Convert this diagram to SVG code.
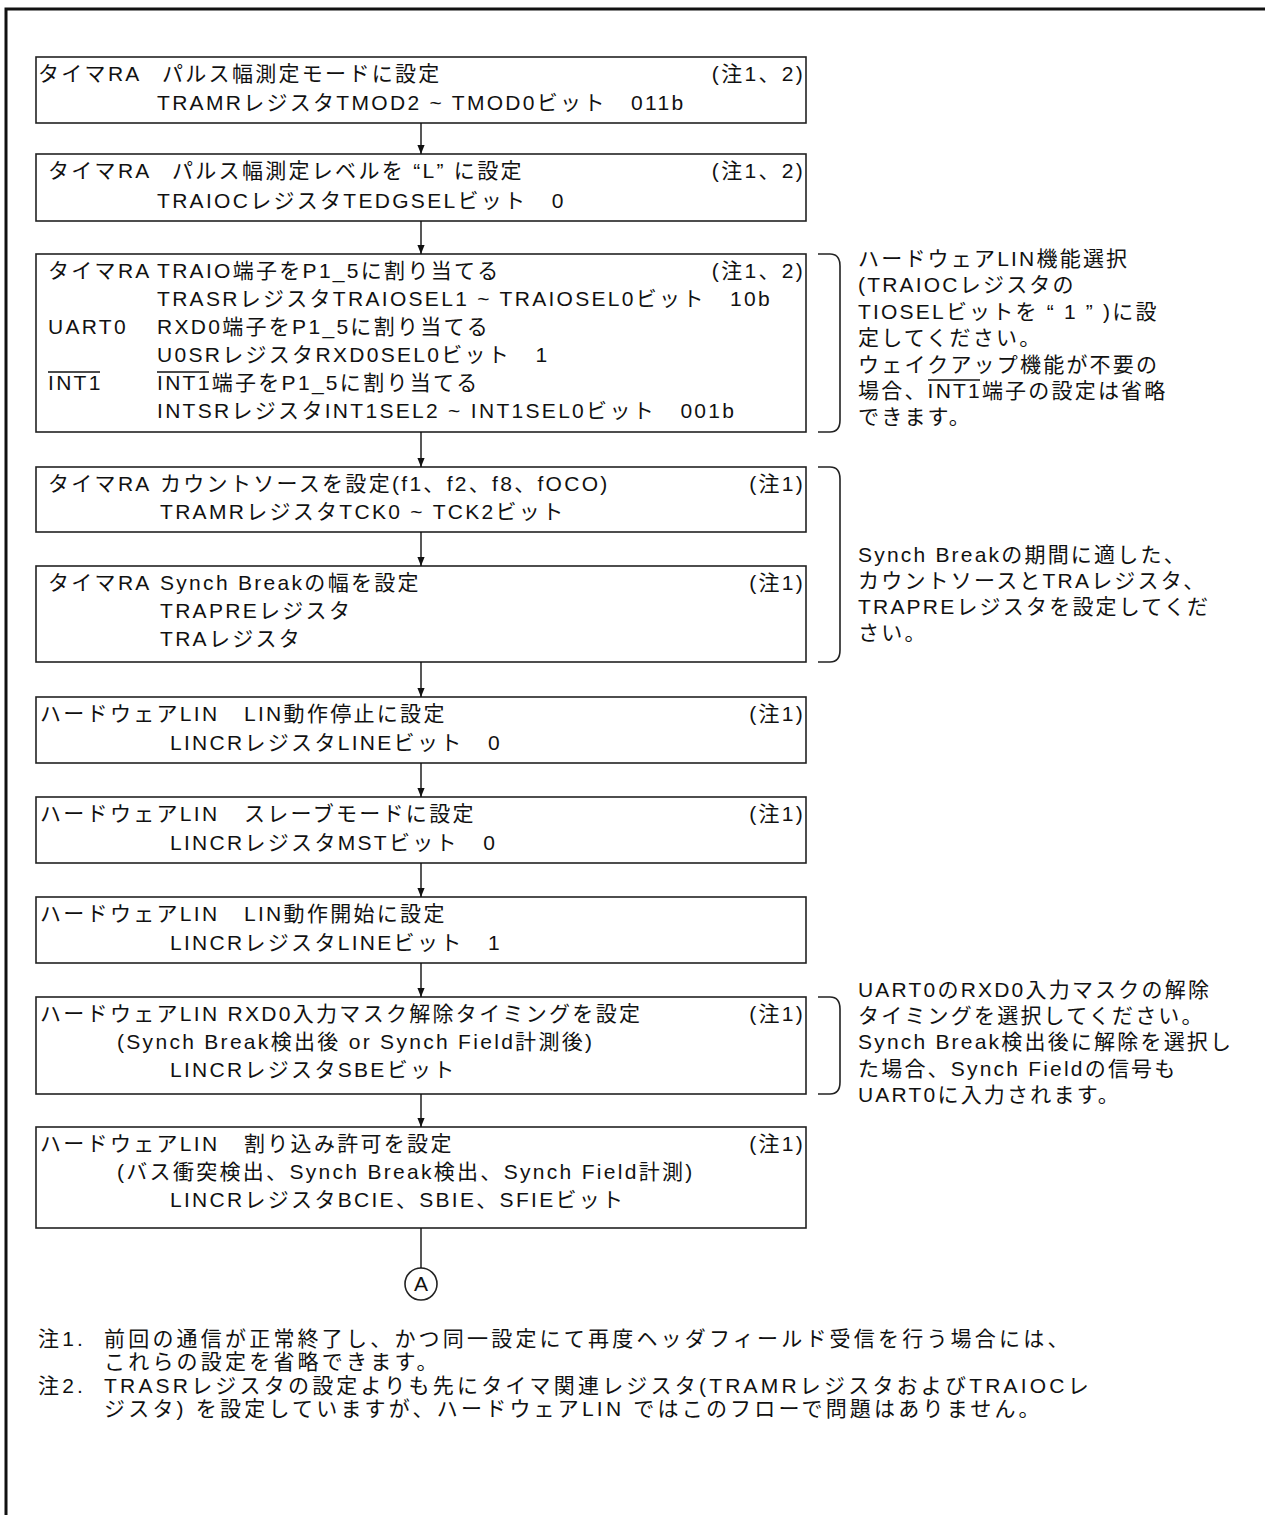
<svg xmlns="http://www.w3.org/2000/svg" width="1265" height="1515" viewBox="0 0 1265 1515">
<defs>
<style>
text{font-family:"Liberation Sans","Noto Sans CJK JP",sans-serif;font-size:21px;letter-spacing:2.3px;fill:#111;white-space:pre}
.e{text-anchor:end}
.c{text-anchor:middle;letter-spacing:0}
.s{letter-spacing:2.2px}
.f{letter-spacing:3.2px}
.box{fill:#fff;stroke:#222;stroke-width:1.6}
.con{stroke:#111;stroke-width:1.4;fill:none}
.br{stroke:#222;stroke-width:1.6;fill:none}
.ol{stroke:#111;stroke-width:1.3}
</style>
<marker id="ah" viewBox="0 0 10 10" refX="10" refY="5" markerWidth="9" markerHeight="10" markerUnits="userSpaceOnUse" orient="auto">
<path d="M0,1 L10,5 L0,9 z" fill="#111"/>
</marker>
</defs>
<rect width="1265" height="1515" fill="#fff"/>
<path d="M6,1515 V9 H1265" fill="none" stroke="#111" stroke-width="3"/>

<g id="n1">
<rect class="box" x="36" y="57" width="770" height="66"/>
<text x="38" y="81">タイマRA</text>
<text x="162" y="81">パルス幅測定モードに設定</text>
<text class="e" x="805" y="81">(注1、2)</text>
<text x="157" y="110">TRAMRレジスタTMOD2 ~ TMOD0ビット   011b</text>
</g>

<g id="n2">
<rect class="box" x="36" y="154" width="770" height="67"/>
<text x="48" y="178">タイマRA</text>
<text x="172" y="178">パルス幅測定レベルを “L” に設定</text>
<text class="e" x="805" y="178">(注1、2)</text>
<text x="157" y="208">TRAIOCレジスタTEDGSELビット   0</text>
</g>

<g id="n3">
<rect class="box" x="36" y="254" width="770" height="178"/>
<text x="48" y="278">タイマRA</text>
<text x="157" y="278">TRAIO端子をP1_5に割り当てる</text>
<text class="e" x="805" y="278">(注1、2)</text>
<text x="157" y="306">TRASRレジスタTRAIOSEL1 ~ TRAIOSEL0ビット   10b</text>
<text x="48" y="334">UART0</text>
<text x="157" y="334">RXD0端子をP1_5に割り当てる</text>
<text x="157" y="362">U0SRレジスタRXD0SEL0ビット   1</text>
<text x="48" y="390">INT1</text>
<line class="ol" x1="48" y1="372" x2="100" y2="372"/>
<text x="157" y="390">INT1端子をP1_5に割り当てる</text>
<line class="ol" x1="157" y1="372" x2="209" y2="372"/>
<text x="157" y="418">INTSRレジスタINT1SEL2 ~ INT1SEL0ビット   001b</text>
</g>

<g id="n4">
<rect class="box" x="36" y="467" width="770" height="65"/>
<text x="48" y="491">タイマRA</text>
<text x="160" y="491">カウントソースを設定(f1、f2、f8、fOCO)</text>
<text class="e" x="805" y="491">(注1)</text>
<text x="160" y="519">TRAMRレジスタTCK0 ~ TCK2ビット</text>
</g>

<g id="n5">
<rect class="box" x="36" y="566" width="770" height="96"/>
<text x="48" y="590">タイマRA</text>
<text x="160" y="590">Synch Breakの幅を設定</text>
<text class="e" x="805" y="590">(注1)</text>
<text x="160" y="618">TRAPREレジスタ</text>
<text x="160" y="646">TRAレジスタ</text>
</g>

<g id="n6">
<rect class="box" x="36" y="697" width="770" height="66"/>
<text x="40" y="721">ハードウェアLIN</text>
<text x="244" y="721">LIN動作停止に設定</text>
<text class="e" x="805" y="721">(注1)</text>
<text x="170" y="750">LINCRレジスタLINEビット   0</text>
</g>

<g id="n7">
<rect class="box" x="36" y="797" width="770" height="66"/>
<text x="40" y="821">ハードウェアLIN</text>
<text x="244" y="821">スレーブモードに設定</text>
<text class="e" x="805" y="821">(注1)</text>
<text x="170" y="850">LINCRレジスタMSTビット   0</text>
</g>

<g id="n8">
<rect class="box" x="36" y="897" width="770" height="66"/>
<text x="40" y="921">ハードウェアLIN</text>
<text x="244" y="921">LIN動作開始に設定</text>
<text x="170" y="950">LINCRレジスタLINEビット   1</text>
</g>

<g id="n9">
<rect class="box" x="36" y="997" width="770" height="97"/>
<text x="40" y="1021">ハードウェアLIN RXD0入力マスク解除タイミングを設定</text>
<text class="e" x="805" y="1021">(注1)</text>
<text x="117" y="1049">(Synch Break検出後 or Synch Field計測後)</text>
<text x="170" y="1077">LINCRレジスタSBEビット</text>
</g>

<g id="n10">
<rect class="box" x="36" y="1127" width="770" height="101"/>
<text x="40" y="1151">ハードウェアLIN</text>
<text x="244" y="1151">割り込み許可を設定</text>
<text class="e" x="805" y="1151">(注1)</text>
<text x="117" y="1179">(バス衝突検出、Synch Break検出、Synch Field計測)</text>
<text x="170" y="1207">LINCRレジスタBCIE、SBIE、SFIEビット</text>
</g>

<g id="nA">
<circle cx="421" cy="1284" r="16" fill="#fff" stroke="#222" stroke-width="1.6"/>
<text class="c" x="421" y="1291">A</text>
</g>

<g id="connectors">
<line class="con" x1="421" y1="123" x2="421" y2="154" marker-end="url(#ah)"/>
<line class="con" x1="421" y1="221" x2="421" y2="254" marker-end="url(#ah)"/>
<line class="con" x1="421" y1="432" x2="421" y2="467" marker-end="url(#ah)"/>
<line class="con" x1="421" y1="532" x2="421" y2="566" marker-end="url(#ah)"/>
<line class="con" x1="421" y1="662" x2="421" y2="697" marker-end="url(#ah)"/>
<line class="con" x1="421" y1="763" x2="421" y2="797" marker-end="url(#ah)"/>
<line class="con" x1="421" y1="863" x2="421" y2="897" marker-end="url(#ah)"/>
<line class="con" x1="421" y1="963" x2="421" y2="997" marker-end="url(#ah)"/>
<line class="con" x1="421" y1="1094" x2="421" y2="1127" marker-end="url(#ah)"/>
<line class="con" x1="421" y1="1228" x2="421" y2="1268"/>
</g>

<g id="note1">
<path class="br" d="M818,254 H830 Q840,254 840,266 V420 Q840,432 830,432 H818"/>
<text class="s" x="858" y="266">ハードウェアLIN機能選択</text>
<text class="s" x="858" y="292">(TRAIOCレジスタの</text>
<text class="s" x="858" y="319">TIOSELビットを “ 1 ” )に設</text>
<text class="s" x="858" y="345">定してください。</text>
<text class="s" x="858" y="372">ウェイクアップ機能が不要の</text>
<text class="s" x="858" y="398">場合、INT1端子の設定は省略</text>
<line class="ol" x1="928" y1="380" x2="980" y2="380"/>
<text class="s" x="858" y="424">できます。</text>
</g>

<g id="note2">
<path class="br" d="M818,467 H830 Q840,467 840,479 V650 Q840,662 830,662 H818"/>
<text class="s" x="858" y="562">Synch Breakの期間に適した、</text>
<text class="s" x="858" y="588">カウントソースとTRAレジスタ、</text>
<text class="s" x="858" y="614">TRAPREレジスタを設定してくだ</text>
<text class="s" x="858" y="640">さい。</text>
</g>

<g id="note3">
<path class="br" d="M818,997 H830 Q840,997 840,1009 V1082 Q840,1094 830,1094 H818"/>
<text class="s" x="858" y="997">UART0のRXD0入力マスクの解除</text>
<text class="s" x="858" y="1023">タイミングを選択してください。</text>
<text class="s" x="858" y="1049">Synch Break検出後に解除を選択し</text>
<text class="s" x="858" y="1076">た場合、Synch Fieldの信号も</text>
<text class="s" x="858" y="1102">UART0に入力されます。</text>
</g>

<g id="footnotes">
<text class="f" x="38" y="1346">注1.</text>
<text class="f" x="104" y="1346">前回の通信が正常終了し、かつ同一設定にて再度ヘッダフィールド受信を行う場合には、</text>
<text class="f" x="104" y="1369">これらの設定を省略できます。</text>
<text class="f" x="38" y="1393">注2.</text>
<text class="f" x="104" y="1393">TRASRレジスタの設定よりも先にタイマ関連レジスタ(TRAMRレジスタおよびTRAIOCレ</text>
<text class="f" x="104" y="1416">ジスタ) を設定していますが、ハードウェアLIN ではこのフローで問題はありません。</text>
</g>
</svg>
